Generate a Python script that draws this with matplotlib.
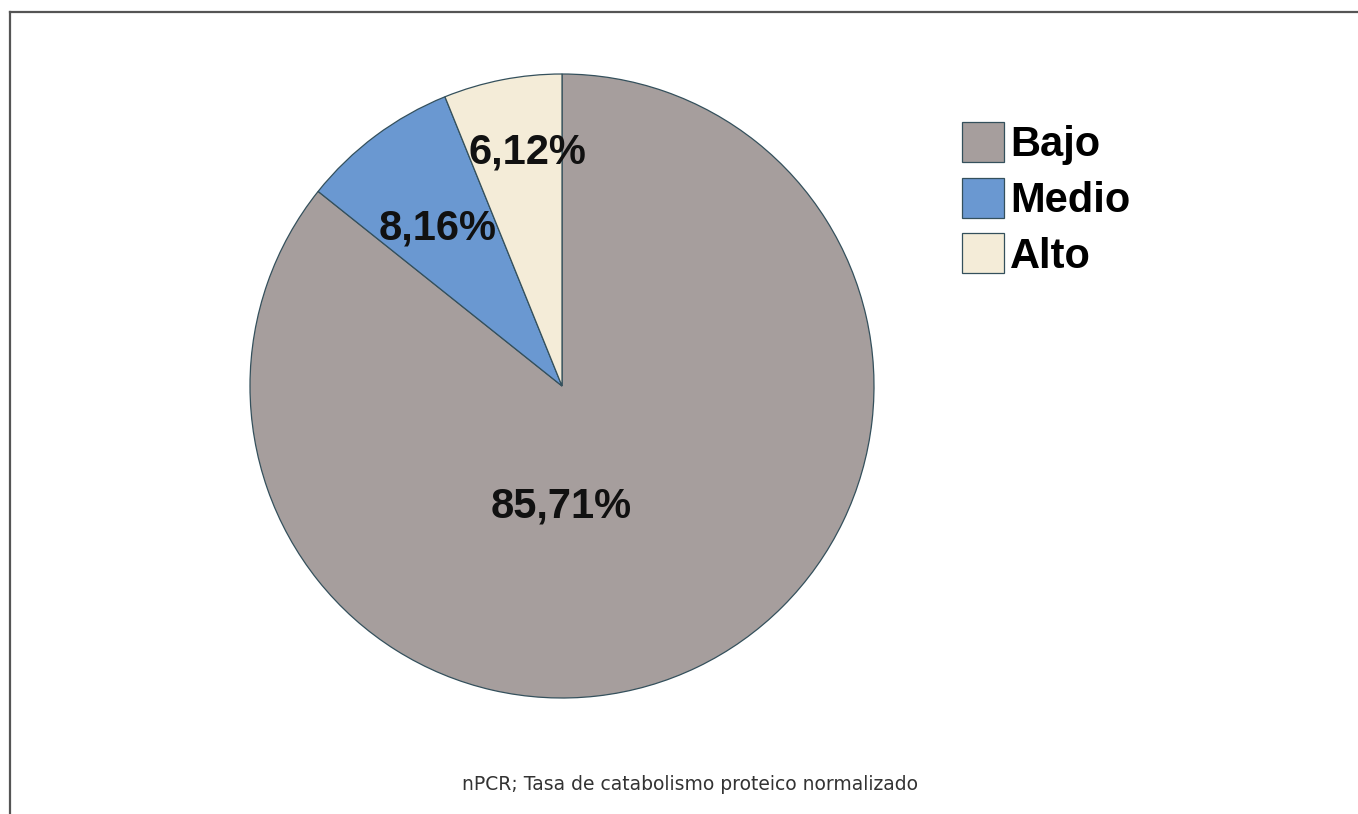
import matplotlib.pyplot as plt
from matplotlib.lines import Line2D

# data
categories = ["Bajo", "Medio", "Alto"]
percentages = [85.71, 8.16, 6.12]
label_texts = ["85,71%", "8,16%", "6,12%"]
slice_colors = ["#A69E9D", "#6A98D1", "#F4ECD8"]
caption = "nPCR; Tasa de catabolismo proteico normalizado"

W, H = 1358, 814
fig = plt.figure(figsize=(W / 100, H / 100), dpi=100)
fig.patch.set_facecolor("white")

# pie axes: centre (562, 386), radius 312 px
cx, cy, r = 562, 386, 312
ax = fig.add_axes([(cx - r) / W, (H - cy - r) / H, 2 * r / W, 2 * r / H])
wedges, _ = ax.pie(percentages, colors=slice_colors, startangle=90, counterclock=False,
                   radius=1.0, wedgeprops=dict(edgecolor="#34505C", linewidth=0.9))
ax.set_xlim(-1, 1)
ax.set_ylim(-1, 1)
ax.set_aspect("equal")
ax.axis("off")

# percentage labels (pixel positions converted into axes coords)
label_pos = [(561, 506), (438, 229), (527, 152)]
for (px, py), txt in zip(label_pos, label_texts):
    ax.text((px - cx) / r, (cy - py) / r, txt, ha="center", va="center",
            fontsize=30, fontweight="bold", family="Liberation Sans", color="#111111")

# legend on the right
leg = fig.legend(wedges, categories, loc="upper left",
                 bbox_to_anchor=(962 / W, 1 - 122 / H), frameon=False,
                 prop=dict(family="Liberation Sans", weight="bold", size=30),
                 handlelength=1.0, handleheight=1.1, handletextpad=0.15,
                 labelspacing=0.3, borderpad=0, borderaxespad=0)

# caption
fig.text(690 / W, 1 - 785 / H, caption, ha="center", va="center",
         fontsize=13.5, family="DejaVu Sans", color="#333333")

# frame lines on top and left only
fig.add_artist(Line2D([10 / W, 10 / W], [0, 1 - 12 / H], transform=fig.transFigure,
                      color="#555555", linewidth=1.6))
fig.add_artist(Line2D([10 / W, 1], [1 - 12 / H, 1 - 12 / H], transform=fig.transFigure,
                      color="#555555", linewidth=1.6))

fig.savefig("out.png", dpi=100)
